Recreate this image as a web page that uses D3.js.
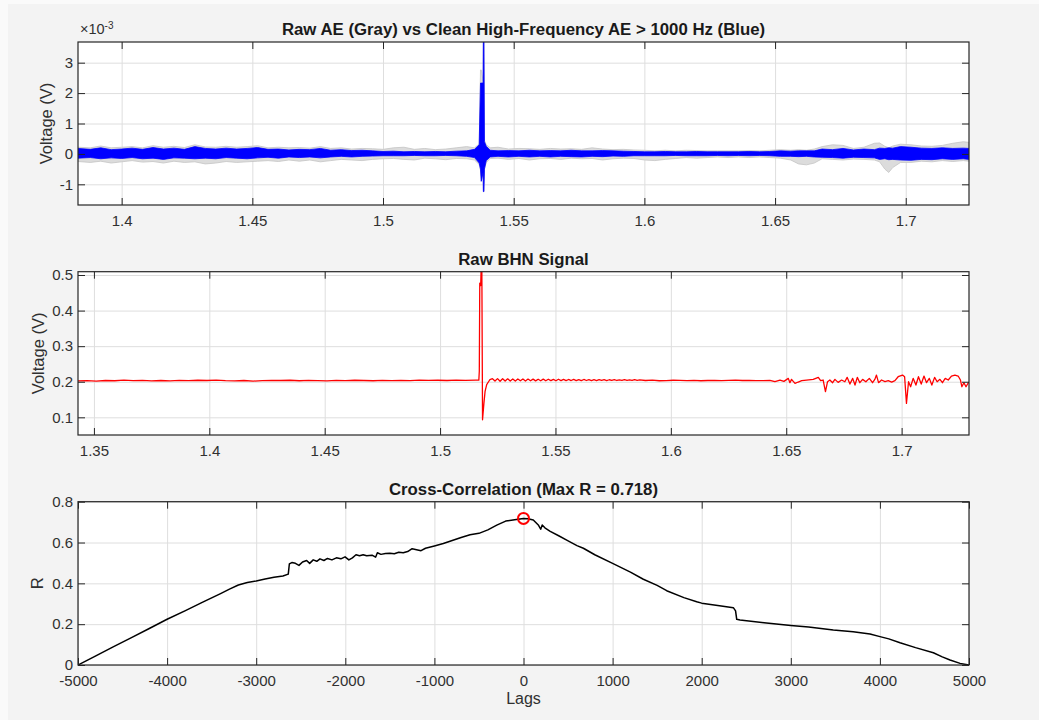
<!DOCTYPE html>
<html><head><meta charset="utf-8">
<script src="https://cdn.jsdelivr.net/npm/d3@7"></script>
<style>
html,body{margin:0;padding:0;background:#f3f3f3;}
svg{display:block;}
text{font-family:"Liberation Sans",Arial,Helvetica,sans-serif;}
.grid line{stroke:#dedede;stroke-width:1;}
.grid path{display:none;}
.ax path{display:none;}
.ax line{stroke:#262626;stroke-width:1;}
.ax text{fill:#303030;font-size:15px;}
</style></head><body>
<svg id="chart" width="1039" height="720"></svg>
<script>
// ---------------- DATA ----------------
// Panel 1: Raw AE (gray) and high-pass AE (blue), envelope of the dense signal, units of 1e-3 V
const aeTime = [
1.3833,1.388,1.392,1.396,1.400,1.404,1.408,1.412,1.416,1.420,
1.424,1.428,1.432,1.436,1.440,1.444,1.448,1.452,1.456,1.460,
1.464,1.468,1.472,1.476,1.480,1.484,1.488,1.492,1.496,1.500,
1.504,1.508,1.512,1.516,1.520,1.524,1.528,1.532,1.535,1.5368,
1.5373,1.5376,1.5383,1.5384,1.5386,1.5388,1.5395,1.541,1.544,1.548,
1.552,1.556,1.560,1.564,1.568,1.572,1.576,1.580,1.584,1.588,
1.592,1.596,1.600,1.604,1.608,1.612,1.616,1.620,1.624,1.628,
1.632,1.636,1.640,1.644,1.648,1.652,1.656,1.659,1.662,1.665,
1.668,1.672,1.676,1.680,1.684,1.688,1.690,1.692,1.6935,1.695,
1.698,1.702,1.706,1.710,1.714,1.718,1.722,1.7242];
const aeBlueHi = [
0.18,0.15,0.20,0.14,0.16,0.19,0.15,0.21,0.16,0.19,
0.15,0.24,0.18,0.16,0.19,0.16,0.18,0.21,0.15,0.16,
0.13,0.15,0.14,0.18,0.12,0.14,0.11,0.12,0.10,0.08,
0.09,0.07,0.08,0.07,0.08,0.07,0.09,0.10,0.15,0.30,
2.33,2.33,2.33,3.90,3.90,0.40,0.25,0.12,0.10,0.11,
0.10,0.12,0.10,0.11,0.10,0.12,0.10,0.10,0.11,0.10,
0.09,0.08,0.07,0.07,0.08,0.07,0.07,0.08,0.07,0.07,
0.07,0.07,0.08,0.07,0.08,0.10,0.09,0.10,0.10,0.10,
0.16,0.14,0.18,0.13,0.16,0.14,0.19,0.18,0.20,0.19,
0.24,0.22,0.19,0.18,0.20,0.18,0.19,0.18];
const aeBlueLo = [
-0.14,-0.12,-0.16,-0.13,-0.15,-0.12,-0.16,-0.14,-0.18,-0.13,
-0.14,-0.16,-0.14,-0.16,-0.12,-0.14,-0.16,-0.13,-0.11,-0.14,
-0.10,-0.12,-0.10,-0.13,-0.10,-0.08,-0.10,-0.08,-0.07,-0.06,
-0.06,-0.06,-0.05,-0.06,-0.06,-0.05,-0.06,-0.08,-0.12,-0.30,
-0.50,-0.90,-0.60,-1.24,-1.24,-0.50,-0.22,-0.10,-0.08,-0.10,
-0.08,-0.10,-0.08,-0.10,-0.08,-0.09,-0.10,-0.08,-0.09,-0.07,
-0.08,-0.06,-0.06,-0.06,-0.06,-0.05,-0.06,-0.06,-0.06,-0.05,
-0.06,-0.05,-0.06,-0.05,-0.06,-0.08,-0.08,-0.09,-0.08,-0.10,
-0.11,-0.12,-0.14,-0.11,-0.12,-0.13,-0.18,-0.16,-0.19,-0.18,
-0.20,-0.21,-0.18,-0.19,-0.16,-0.18,-0.16,-0.18];
const aeGrayHi = [
0.22,0.20,0.26,0.20,0.22,0.24,0.20,0.27,0.22,0.25,
0.21,0.30,0.23,0.22,0.25,0.22,0.24,0.27,0.20,0.22,
0.20,0.21,0.19,0.24,0.18,0.20,0.16,0.18,0.17,0.15,
0.20,0.22,0.15,0.18,0.14,0.16,0.20,0.24,0.20,0.33,
2.76,2.76,2.40,3.90,3.90,0.45,0.30,0.20,0.22,0.16,
0.18,0.17,0.15,0.18,0.16,0.17,0.15,0.20,0.16,0.14,
0.15,0.13,0.12,0.10,0.12,0.10,0.12,0.11,0.10,0.10,
0.10,0.10,0.11,0.10,0.12,0.14,0.12,0.14,0.12,0.16,
0.24,0.30,0.28,0.18,0.22,0.35,0.36,0.25,0.20,0.26,
0.32,0.30,0.26,0.25,0.28,0.35,0.40,0.38];
const aeGrayLo = [
-0.25,-0.28,-0.24,-0.30,-0.26,-0.22,-0.27,-0.25,-0.30,-0.24,
-0.28,-0.26,-0.33,-0.30,-0.25,-0.28,-0.26,-0.24,-0.22,-0.25,
-0.20,-0.24,-0.20,-0.26,-0.22,-0.18,-0.20,-0.22,-0.18,-0.16,
-0.15,-0.18,-0.20,-0.14,-0.16,-0.19,-0.15,-0.16,-0.20,-0.35,
-0.55,-0.90,-0.60,-1.24,-1.24,-0.50,-0.28,-0.15,-0.14,-0.18,
-0.15,-0.20,-0.16,-0.15,-0.18,-0.14,-0.16,-0.15,-0.20,-0.16,
-0.14,-0.15,-0.20,-0.22,-0.18,-0.15,-0.12,-0.14,-0.12,-0.10,
-0.12,-0.10,-0.12,-0.10,-0.12,-0.14,-0.20,-0.33,-0.36,-0.30,
-0.16,-0.18,-0.20,-0.17,-0.18,-0.20,-0.26,-0.50,-0.61,-0.45,
-0.28,-0.28,-0.24,-0.26,-0.22,-0.25,-0.22,-0.24];
const aeXDomain = [1.3833, 1.7242];
const aeYDomain = [-1.68, 3.68];
const aeXTicks = [1.4,1.45,1.5,1.55,1.6,1.65,1.7];
const aeXTickLabels = ["1.4","1.45","1.5","1.55","1.6","1.65","1.7"];
const aeYTicks = [-1,0,1,2,3];
const aeYTickLabels = ["-1","0","1","2","3"];

// Panel 2: Raw BHN signal (V)
const bhnTime = [
1.3431,1.347,1.351,1.355,1.359,1.363,1.367,1.371,1.375,1.379,
1.383,1.387,1.391,1.395,1.399,1.403,1.407,1.411,1.415,1.419,
1.423,1.427,1.431,1.435,1.439,1.443,1.447,1.451,1.455,1.459,
1.463,1.467,1.471,1.475,1.479,1.483,1.487,1.491,1.495,1.499,
1.503,1.507,1.511,1.5155,1.5168,
1.5170,1.5172,1.5176,1.5178,1.5181,1.5184,1.5190,1.5195,1.5202,1.5210,1.5216,
1.5227,1.5238,1.5249,1.5260,1.5271,1.5282,1.5293,1.5304,1.5315,1.5326,
1.5337,1.5348,1.5359,1.5370,1.5381,1.5392,1.5403,1.5414,1.5425,1.5436,
1.5447,1.5458,1.5469,1.5480,1.5491,1.5502,1.5513,1.5524,1.5535,1.5546,
1.5557,1.5568,1.5579,1.5590,1.5601,1.5612,1.5623,1.5634,1.5645,1.5656,
1.5667,1.5678,1.5689,1.5700,1.5711,1.5722,1.5733,1.5744,1.5755,1.5766,
1.5777,1.5788,1.5799,1.5810,1.5821,1.5832,1.5843,1.5854,1.5865,
1.589,1.592,1.595,1.598,1.601,1.604,1.607,1.610,1.613,1.616,
1.619,1.622,1.625,1.628,1.631,1.634,1.637,1.640,
1.6429,1.6451,1.6473,1.6490,1.6509,1.6516,1.6523,1.6538,1.6552,1.6567,
1.6588,1.6617,1.6639,1.6649,1.6660,1.6670,1.6679,1.6689,1.6701,1.6711,
1.6725,1.6740,1.6754,1.6764,1.6776,1.6788,1.6798,1.6808,1.6819,1.6831,
1.6845,1.6860,1.6874,1.6884,1.6891,1.6900,1.6913,1.6928,1.6942,1.6957,
1.6971,1.6985,1.7004,1.7013,1.7021,1.7030,1.7039,1.7050,1.7062,1.7073,
1.7085,1.7097,1.7108,1.7120,1.7131,1.7143,1.7154,1.7166,1.7177,1.7189,
1.7202,1.7216,1.7231,1.7245,1.7255,1.7261,1.7270,1.7279,1.7289,1.7292];
const bhnVolt = [
0.2025,0.2032,0.2018,0.2035,0.2028,0.2045,0.2030,0.2040,0.2022,0.2035,
0.2027,0.2038,0.2030,0.2042,0.2035,0.2048,0.2030,0.2022,0.2035,0.2018,
0.2030,0.2040,0.2035,0.2042,0.2028,0.2037,0.2030,0.2025,0.2038,0.2030,
0.2042,0.2035,0.2028,0.2036,0.2030,0.2040,0.2033,0.2045,0.2038,0.2042,
0.2035,0.2045,0.2040,0.2048,0.2045,
0.230,0.477,0.470,0.520,0.520,0.093,0.140,0.173,0.192,0.200,0.206,
0.2085,0.2020,0.2088,0.2015,0.2084,0.2018,0.2082,0.2022,0.2080,0.2020,
0.2078,0.2025,0.2080,0.2022,0.2075,0.2026,0.2074,0.2024,0.2072,0.2028,
0.2074,0.2026,0.2070,0.2030,0.2068,0.2028,0.2070,0.2032,0.2066,0.2030,
0.2064,0.2034,0.2066,0.2032,0.2062,0.2030,0.2064,0.2035,0.2060,0.2032,
0.2058,0.2034,0.2062,0.2036,0.2058,0.2034,0.2056,0.2038,0.2060,0.2035,
0.2054,0.2038,0.2060,0.2040,0.2054,0.2036,0.2058,0.2038,0.2052,
0.2035,0.2045,0.2028,0.2030,0.2042,0.2038,0.2030,0.2040,0.2028,0.2035,
0.2040,0.2030,0.2038,0.2045,0.2035,0.2040,0.2032,0.2030,
0.2038,0.2001,0.2048,0.2010,0.2095,0.1973,0.2067,0.1954,0.1992,0.2029,
0.2048,0.2067,0.2123,0.2029,0.2048,0.1720,0.2001,0.2048,0.1973,0.2067,
0.1982,0.2048,0.2001,0.2123,0.1935,0.2095,0.1907,0.2123,0.1973,0.2067,
0.2001,0.2095,0.1973,0.2067,0.2188,0.1973,0.2048,0.2001,0.2029,0.1992,
0.2029,0.2141,0.2188,0.2141,0.1393,0.2001,0.1860,0.2095,0.1907,0.2141,
0.1935,0.2160,0.1973,0.2095,0.1907,0.2123,0.2001,0.2067,0.1973,0.2095,
0.2048,0.2160,0.2188,0.2160,0.2048,0.1860,0.1973,0.1860,0.1973,0.1975];
const bhnXDomain = [1.3431, 1.7292];
const bhnYDomain = [0.0503, 0.5093];
const bhnXTicks = [1.35,1.4,1.45,1.5,1.55,1.6,1.65,1.7];
const bhnXTickLabels = ["1.35","1.4","1.45","1.5","1.55","1.6","1.65","1.7"];
const bhnYTicks = [0.1,0.2,0.3,0.4,0.5];
const bhnYTickLabels = ["0.1","0.2","0.3","0.4","0.5"];

// Panel 3: Cross-correlation
const xcLag = [
-5000,-4800,-4600,-4400,-4200,-4000,-3800,-3600,-3400,-3300,
-3200,-3100,-3000,-2900,-2800,-2700,-2640,-2628,-2600,-2560,
-2520,-2480,-2434,-2400,-2360,-2320,-2284,-2240,-2200,-2150,
-2100,-2050,-2003,-1960,-1920,-1880,-1840,-1800,-1760,-1700,
-1660,-1640,-1600,-1550,-1500,-1450,-1400,-1350,-1300,-1250,
-1200,-1150,-1100,-1000,-900,-800,-700,-600,-500,-400,
-300,-200,-100,0,50,110,166,193,210,240,
300,400,485,600,672,800,1000,1200,1345,1500,
1607,1800,1944,2000,2200,2355,2380,2393,2430,2700,
3000,3200,3477,3700,3889,4001,4100,4226,4400,4600,
4700,4787,4900,5000];
const xcR = [
0,0.045,0.09,0.134,0.179,0.224,0.265,0.308,0.35,0.372,
0.392,0.404,0.412,0.421,0.43,0.436,0.445,0.495,0.502,0.498,
0.488,0.505,0.512,0.498,0.515,0.508,0.52,0.512,0.522,0.515,
0.525,0.52,0.53,0.515,0.525,0.54,0.535,0.54,0.535,0.538,
0.528,0.55,0.542,0.546,0.548,0.545,0.552,0.55,0.556,0.57,
0.565,0.56,0.572,0.583,0.595,0.61,0.625,0.638,0.645,0.662,
0.685,0.705,0.712,0.718,0.716,0.71,0.686,0.665,0.686,0.672,
0.655,0.632,0.612,0.585,0.572,0.54,0.498,0.455,0.42,0.39,
0.364,0.33,0.31,0.303,0.29,0.281,0.265,0.224,0.221,0.207,
0.194,0.186,0.171,0.163,0.152,0.139,0.128,0.109,0.085,0.06,
0.04,0.0245,0.008,0];
const xcPeakLag = [0];
const xcPeakR = [0.718];
const xcXDomain = [-5000, 5000];
const xcYDomain = [0, 0.8];
const xcXTicks = [-5000,-4000,-3000,-2000,-1000,0,1000,2000,3000,4000,5000];
const xcXTickLabels = ["-5000","-4000","-3000","-2000","-1000","0","1000","2000","3000","4000","5000"];
const xcYTicks = [0,0.2,0.4,0.6,0.8];
const xcYTickLabels = ["0","0.2","0.4","0.6","0.8"];

const titles = ["Raw AE (Gray) vs Clean High-Frequency AE > 1000 Hz (Blue)", "Raw BHN Signal", "Cross-Correlation (Max R = 0.718)"];

// ---------------- DRAWING ----------------
const W = 1039, H = 720;
const PL = 78, PR = 969;
const svg = d3.select("#chart");
svg.append("rect").attr("width", W).attr("height", H).attr("fill", "#f3f3f3");
svg.append("rect").attr("width", 8).attr("height", H).attr("fill", "#fafafa");
svg.append("rect").attr("width", W).attr("height", 4).attr("fill", "#fafafa");

function makePanel(o) {
  const x = d3.scaleLinear().domain(o.xDomain).range([PL, PR]);
  const y = d3.scaleLinear().domain(o.yDomain).range([o.bottom, o.top]);
  const g = svg.append("g");
  g.append("rect").attr("x", PL).attr("y", o.top).attr("width", PR - PL).attr("height", o.bottom - o.top).attr("fill", "#fff");
  g.append("g").attr("class", "grid").attr("transform", `translate(0,${o.bottom})`)
    .call(d3.axisBottom(x).tickValues(o.xTicks).tickSize(-(o.bottom - o.top)).tickFormat(""));
  g.append("g").attr("class", "grid").attr("transform", `translate(${PL},0)`)
    .call(d3.axisLeft(y).tickValues(o.yTicks).tickSize(-(PR - PL)).tickFormat(""));
  svg.append("clipPath").attr("id", "clip" + o.id).append("rect")
    .attr("x", PL).attr("y", o.top).attr("width", PR - PL).attr("height", o.bottom - o.top);
  const plot = g.append("g").attr("clip-path", `url(#clip${o.id})`);
  return { g, x, y, plot, o };
}

function finishPanel(p) {
  const { g, x, y, o } = p;
  const ax = g.append("g");
  ax.append("g").attr("class", "ax").attr("transform", `translate(0,${o.bottom})`)
    .call(d3.axisBottom(x).tickValues(o.xTicks).tickSize(-7).tickPadding(10.5)
      .tickFormat((d, i) => o.xLabels[i]));
  ax.append("g").attr("class", "ax").attr("transform", `translate(0,${o.top})`)
    .call(d3.axisTop(x).tickValues(o.xTicks).tickSize(-7).tickFormat(""));
  ax.append("g").attr("class", "ax").attr("transform", `translate(${PL},0)`)
    .call(d3.axisLeft(y).tickValues(o.yTicks).tickSize(-7).tickPadding(5)
      .tickFormat((d, i) => o.yLabels[i]));
  ax.append("g").attr("class", "ax").attr("transform", `translate(${PR},0)`)
    .call(d3.axisRight(y).tickValues(o.yTicks).tickSize(-7).tickFormat(""));
  ax.selectAll(".ax").attr("font-family", null).attr("font-size", null);
  g.append("rect").attr("x", PL).attr("y", o.top).attr("width", PR - PL).attr("height", o.bottom - o.top)
    .attr("fill", "none").attr("stroke", "#262626").attr("stroke-width", 1.2);
  g.append("text").attr("x", (PL + PR) / 2).attr("y", o.top - 7).attr("text-anchor", "middle")
    .attr("font-weight", "bold").attr("font-size", "16.8px").attr("fill", "#1a1a1a").text(o.title);
  g.append("text").attr("transform", `translate(${o.ylabelX},${(o.top + o.bottom) / 2}) rotate(-90)`)
    .attr("text-anchor", "middle").attr("dy", "0.35em").attr("font-size", "16.5px").attr("fill", "#303030")
    .text(o.ylabel);
}

// Panel 1
const p1 = makePanel({ id: 1, top: 42, bottom: 205, xDomain: aeXDomain, yDomain: aeYDomain,
  xTicks: aeXTicks, xLabels: aeXTickLabels, yTicks: aeYTicks, yLabels: aeYTickLabels,
  title: titles[0], ylabel: "Voltage (V)", ylabelX: 46 });
const idx1 = d3.range(aeTime.length);
const grayArea = d3.area().x(i => p1.x(aeTime[i])).y0(i => p1.y(aeGrayLo[i])).y1(i => p1.y(aeGrayHi[i]));
const blueArea = d3.area().x(i => p1.x(aeTime[i])).y0(i => p1.y(aeBlueLo[i])).y1(i => p1.y(aeBlueHi[i]));
p1.plot.append("path").datum(idx1).attr("d", grayArea).attr("fill", "#dcdcdc").attr("stroke", "#c4c4c4").attr("stroke-width", 0.8);
p1.plot.append("path").datum(idx1).attr("d", blueArea).attr("fill", "#0000ff").attr("stroke", "#0000ff").attr("stroke-width", 0.8);
finishPanel(p1);
const expo = p1.g.append("text").attr("x", 80).attr("y", 34).attr("fill", "#303030").attr("font-size", "14.5px");
expo.append("tspan").text("×10");
expo.append("tspan").attr("dy", -5).attr("font-size", "10px").text("-3");

// Panel 2
const p2 = makePanel({ id: 2, top: 271.7, bottom: 435, xDomain: bhnXDomain, yDomain: bhnYDomain,
  xTicks: bhnXTicks, xLabels: bhnXTickLabels, yTicks: bhnYTicks, yLabels: bhnYTickLabels,
  title: titles[1], ylabel: "Voltage (V)", ylabelX: 38.5 });
const idx2 = d3.range(bhnTime.length);
p2.plot.append("path").datum(idx2)
  .attr("d", d3.line().x(i => p2.x(bhnTime[i])).y(i => p2.y(bhnVolt[i])))
  .attr("fill", "none").attr("stroke", "#ff0000").attr("stroke-width", 1.3).attr("stroke-linejoin", "round");
finishPanel(p2);

// Panel 3
const p3 = makePanel({ id: 3, top: 501.7, bottom: 665, xDomain: xcXDomain, yDomain: xcYDomain,
  xTicks: xcXTicks, xLabels: xcXTickLabels, yTicks: xcYTicks, yLabels: xcYTickLabels,
  title: titles[2], ylabel: "R", ylabelX: 37.5 });
const idx3 = d3.range(xcLag.length);
p3.plot.append("path").datum(idx3)
  .attr("d", d3.line().x(i => p3.x(xcLag[i])).y(i => p3.y(xcR[i])))
  .attr("fill", "none").attr("stroke", "#000").attr("stroke-width", 1.5).attr("stroke-linejoin", "round");
finishPanel(p3);
p3.g.selectAll("circle.peak").data(d3.range(xcPeakLag.length)).enter().append("circle")
  .attr("class", "peak")
  .attr("cx", i => p3.x(xcPeakLag[i])).attr("cy", i => p3.y(xcPeakR[i])).attr("r", 5.5)
  .attr("fill", "none").attr("stroke", "#ff0000").attr("stroke-width", 2);
p3.g.append("text").attr("x", (PL + PR) / 2).attr("y", 703.5).attr("text-anchor", "middle")
  .attr("font-size", "16px").attr("fill", "#303030").text("Lags");
</script>
</body></html>
